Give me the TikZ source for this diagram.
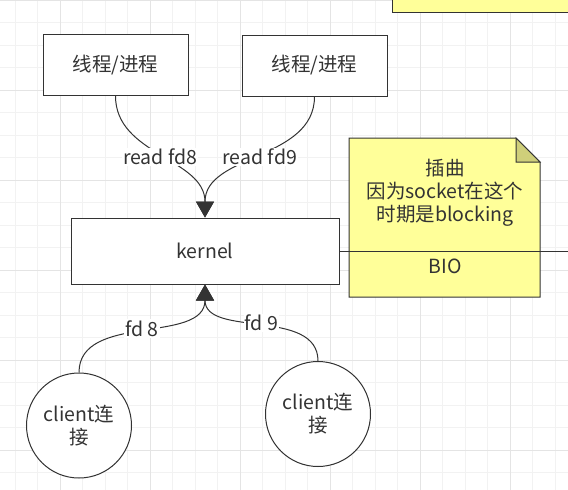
\documentclass[tikz,border=0pt]{standalone}
\usepackage{fontspec}
\setmainfont{Noto Sans CJK SC}
\usepackage{xcolor}
\usepackage{tikz}
\usetikzlibrary{arrows.meta}
\definecolor{ink}{HTML}{333333}
\definecolor{notey}{HTML}{FFFF99}
\definecolor{fold}{HTML}{CFCF7A}
\definecolor{gmin}{HTML}{F2F2F2}
\definecolor{gmaj}{HTML}{E4E4E4}
\tikzset{box/.style={rectangle,draw=ink,fill=white,line width=1pt,minimum width=145pt,minimum height=61pt,inner sep=0pt},
         cl/.style={circle,draw=ink,fill=white,line width=1pt,minimum size=105pt,inner sep=0pt,align=center},
         lbl/.style={fill=white,inner sep=1pt},
         wire/.style={draw=ink,line width=1pt}}

\begin{document}
\begin{tikzpicture}[x=1pt,y=-1pt,>={Triangle[width=18pt,length=16pt]},
    every node/.style={font=\fontsize{19.5}{23}\selectfont,text=ink}]
    \useasboundingbox (0,0) rectangle (568,490);
    \clip (0,0) rectangle (568,490);
    \fill[white] (0,0) rectangle (568,490);
    % grid
    \foreach \i in {0,...,25} \draw[gmin,line width=1pt] ({15+22.5*\i},0) -- ({15+22.5*\i},490);
    \foreach \i in {0,...,21} \draw[gmin,line width=1pt] (0,{22.5*\i}) -- (568,{22.5*\i});
    \foreach \i in {0,...,5} \draw[gmaj,line width=1pt] ({60+90*\i},0) -- ({60+90*\i},490);
    \foreach \i in {0,...,5} \draw[gmaj,line width=1pt] (0,{90*\i}) -- (568,{90*\i});

    \node[box] (a) at (115.5,65) {线程/进程};
    \node[box] (b) at (314.5,65.5) {线程/进程};
    \node[box,minimum width=268pt,minimum height=66pt] (k) at (205,251) {kernel};
    \node[cl] (c) at (79,425.5) {client连\\接};
    \node[cl] (d) at (318,414) {client连\\接};

    \draw [wire,->] (a.south) to [out=-90,in=90] node[lbl]{read fd8} (k.north);
    \draw [wire,->] (b.south) to [out=-90,in=90] node[lbl]{read fd9} (k.north);
    \draw [wire,->] (c.north) to [out=90,in=-90] node[lbl]{fd 8} (k.south);
    \draw [wire,->] (d.north) to [out=90,in=-90] node[lbl]{fd 9} (k.south);

    % notes
    \filldraw[fill=notey,draw=ink,line width=1pt] (392,-10) rectangle (580,12.5);
    \filldraw[fill=notey,draw=ink,line width=1pt] (349,138) -- (516,138) -- (540,162) -- (540,297) -- (349,297) -- cycle;
    \filldraw[fill=fold,draw=ink,line width=1pt] (516,138) -- (516,162) -- (540,162) -- cycle;
    \node[align=center] (n) at (445,193) {插曲\\因为socket在这个\\时期是blocking};
    \node (m) at (445,266) {BIO};
    \coordinate (r) at (570,251);
    \draw [wire] (k.east) -- (r);
\end{tikzpicture}
\end{document}
